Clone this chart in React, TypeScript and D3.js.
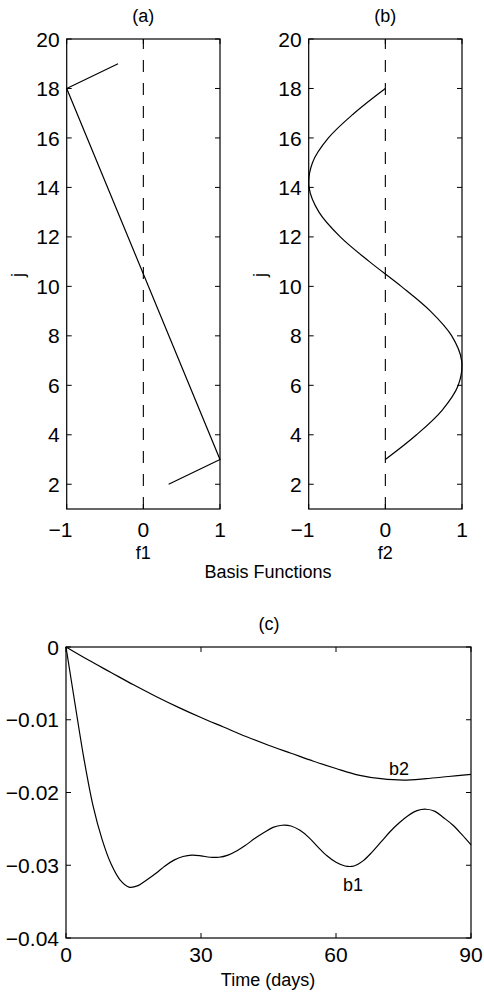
import React from "react";
import * as d3 from "d3";

// ---- data ----
const F1_J = [2, 3, 18, 19];
const F1_V = [0.33, 1, -1, -0.33];

const F2_J = [3, 4, 5, 6, 7, 8, 9, 10, 11, 12, 13, 14, 15, 16, 17, 18];
const F2_V = [0, 0.407, 0.743, 0.951, 0.995, 0.866, 0.588, 0.208, -0.208, -0.588, -0.866, -0.995, -0.951, -0.743, -0.407, 0];

const J_TICKS = [2, 4, 6, 8, 10, 12, 14, 16, 18, 20];
const F_TICKS = [-1, 0, 1];

const B2_T = [0, 5, 10, 15, 20, 25, 30, 35, 40, 45, 50, 55, 60, 65, 70, 75, 80, 85, 90];
const B2_V = [0, -0.0018, -0.0035, -0.0052, -0.0068, -0.0083, -0.0097, -0.011, -0.0123, -0.0135, -0.0146, -0.0157, -0.0167, -0.0176, -0.0181, -0.0183, -0.0181, -0.0178, -0.0175];

const B1_T = [0, 2, 4, 6, 8, 10, 12, 14, 16, 18, 20, 22, 24, 26, 28, 30, 32, 34, 36, 38, 40, 42, 44, 46, 48, 50, 52, 54, 56, 58, 60, 62, 64, 66, 68, 70, 72, 74, 76, 78, 80, 82, 84, 86, 88, 90];
const B1_V = [0, -0.0078, -0.0154, -0.0218, -0.0264, -0.0298, -0.032, -0.033, -0.0328, -0.032, -0.0311, -0.0301, -0.0293, -0.0288, -0.0286, -0.0287, -0.0289, -0.0289, -0.0286, -0.028, -0.0272, -0.0263, -0.0255, -0.0248, -0.0245, -0.0246, -0.0252, -0.0262, -0.0275, -0.0287, -0.0296, -0.0301, -0.0301, -0.0294, -0.0282, -0.0268, -0.0254, -0.0242, -0.0232, -0.0225, -0.0223, -0.0226, -0.0235, -0.0245, -0.0258, -0.0272];

const T_TICKS = [0, 30, 60, 90];
const C_TICKS = [0, -0.01, -0.02, -0.03, -0.04];

const FONT = "'Liberation Sans', Arial, Helvetica, sans-serif";
const TICK_FS = 21;
const LAB_FS = 18;
const TL = 5;

function fmt(v: number): string {
  const s = String(v);
  return s.replace("-", "\u2212");
}

function XTickLabel({ x, y, v }: { x: number; y: number; v: number }) {
  const s = fmt(v);
  if (v < 0) {
    // digits centered on tick, minus hangs left
    const digits = s.slice(1);
    const dw = 0.556 * TICK_FS * digits.length;
    return (
      <text x={x + dw / 2} y={y} textAnchor="end" fontSize={TICK_FS} fontFamily={FONT}>
        {s}
      </text>
    );
  }
  return (
    <text x={x} y={y} textAnchor="middle" fontSize={TICK_FS} fontFamily={FONT}>
      {s}
    </text>
  );
}

function BasisPanel({
  x0,
  x1,
  js,
  vs,
  title,
  xlabel,
  curved,
}: {
  x0: number;
  x1: number;
  js: number[];
  vs: number[];
  title: string;
  xlabel: string;
  curved: boolean;
}) {
  const top = 39;
  const bottom = 509;
  const x = d3.scaleLinear().domain([-1, 1]).range([x0, x1]);
  const y = d3.scaleLinear().domain([1, 20]).range([bottom, top]);
  const pts: [number, number][] = js.map((j, i) => [x(vs[i]), y(j)]);
  const line = d3
    .line<[number, number]>()
    .x((d) => d[0])
    .y((d) => d[1])
    .curve(curved ? d3.curveCatmullRom.alpha(0.5) : d3.curveLinear);
  const cx = (x0 + x1) / 2;
  return (
    <g>
      <text x={cx} y={22} textAnchor="middle" fontSize={LAB_FS} fontFamily={FONT}>
        {title}
      </text>
      {/* zero dashed line */}
      <line
        x1={x(0)}
        x2={x(0)}
        y1={top}
        y2={bottom}
        stroke="#000"
        strokeWidth={1.1}
        strokeDasharray="12,11"
        strokeDashoffset={2}
      />
      <path d={line(pts) || ""} fill="none" stroke="#000" strokeWidth={1.2} />
      <rect x={x0} y={top} width={x1 - x0} height={bottom - top} fill="none" stroke="#000" strokeWidth={1.2} />
      {J_TICKS.map((t) => (
        <g key={"j" + t}>
          <line x1={x0} x2={x0 + TL} y1={y(t)} y2={y(t)} stroke="#000" />
          <line x1={x1} x2={x1 - TL} y1={y(t)} y2={y(t)} stroke="#000" />
          <text x={x0 - 7} y={y(t)} dy="0.36em" textAnchor="end" fontSize={TICK_FS} fontFamily={FONT}>
            {t}
          </text>
        </g>
      ))}
      {F_TICKS.map((t) => (
        <g key={"f" + t}>
          <line x1={x(t)} x2={x(t)} y1={bottom} y2={bottom - TL} stroke="#000" />
          <line x1={x(t)} x2={x(t)} y1={top} y2={top + TL} stroke="#000" />
          <XTickLabel x={x(t)} y={537} v={t} />
        </g>
      ))}
      <text x={cx} y={559} textAnchor="middle" fontSize={LAB_FS} fontFamily={FONT}>
        {xlabel}
      </text>
      <text
        transform={`translate(${x0 - 43},275) rotate(-90)`}
        textAnchor="middle"
        fontSize={LAB_FS}
        fontFamily={FONT}
      >
        j
      </text>
    </g>
  );
}

function TimePanel() {
  const left = 66;
  const right = 471;
  const top = 647;
  const bottom = 938;
  const x = d3.scaleLinear().domain([0, 90]).range([left, right]);
  const y = d3.scaleLinear().domain([-0.04, 0]).range([bottom, top]);
  const mk = (ts: number[], vs: number[]) =>
    d3
      .line<[number, number]>()
      .x((d) => x(d[0]))
      .y((d) => y(d[1]))
      .curve(d3.curveCatmullRom.alpha(0.5))(ts.map((t, i) => [t, vs[i]] as [number, number])) || "";
  return (
    <g>
      <text x={269} y={630} textAnchor="middle" fontSize={LAB_FS} fontFamily={FONT}>
        (c)
      </text>
      <path d={mk(B2_T, B2_V)} fill="none" stroke="#000" strokeWidth={1.2} />
      <path d={mk(B1_T, B1_V)} fill="none" stroke="#000" strokeWidth={1.2} />
      <rect x={left} y={top} width={right - left} height={bottom - top} fill="none" stroke="#000" strokeWidth={1.2} />
      {C_TICKS.map((t) => (
        <g key={"c" + t}>
          <line x1={left} x2={left + TL} y1={y(t)} y2={y(t)} stroke="#000" />
          <line x1={right} x2={right - TL} y1={y(t)} y2={y(t)} stroke="#000" />
          <text x={left - 7} y={y(t)} dy="0.36em" textAnchor="end" fontSize={TICK_FS} fontFamily={FONT}>
            {fmt(t)}
          </text>
        </g>
      ))}
      {T_TICKS.map((t) => (
        <g key={"t" + t}>
          <line x1={x(t)} x2={x(t)} y1={bottom} y2={bottom - TL} stroke="#000" />
          <line x1={x(t)} x2={x(t)} y1={top} y2={top + TL} stroke="#000" />
          <text x={x(t)} y={962} textAnchor="middle" fontSize={TICK_FS} fontFamily={FONT}>
            {t}
          </text>
        </g>
      ))}
      <text x={x(74)} y={775} textAnchor="middle" fontSize={LAB_FS} fontFamily={FONT}>
        b2
      </text>
      <text x={x(63.8)} y={891} textAnchor="middle" fontSize={LAB_FS} fontFamily={FONT}>
        b1
      </text>
      <text x={268} y={986} textAnchor="middle" fontSize={LAB_FS} fontFamily={FONT}>
        Time (days)
      </text>
    </g>
  );
}

export default function App() {
  return (
    <svg
      width={484}
      height={996}
      viewBox="0 0 484 996"
      style={{ position: "absolute", left: 0, top: 0, background: "#fff" }}
    >
      <rect x={0} y={0} width={484} height={996} fill="#fff" />
      <BasisPanel x0={66.7} x1={220} js={F1_J} vs={F1_V} title="(a)" xlabel="f1" curved={false} />
      <BasisPanel x0={308.7} x1={462} js={F2_J} vs={F2_V} title="(b)" xlabel="f2" curved={true} />
      <text x={268} y={578} textAnchor="middle" fontSize={LAB_FS} fontFamily={FONT}>
        Basis Functions
      </text>
      <TimePanel />
    </svg>
  );
}
